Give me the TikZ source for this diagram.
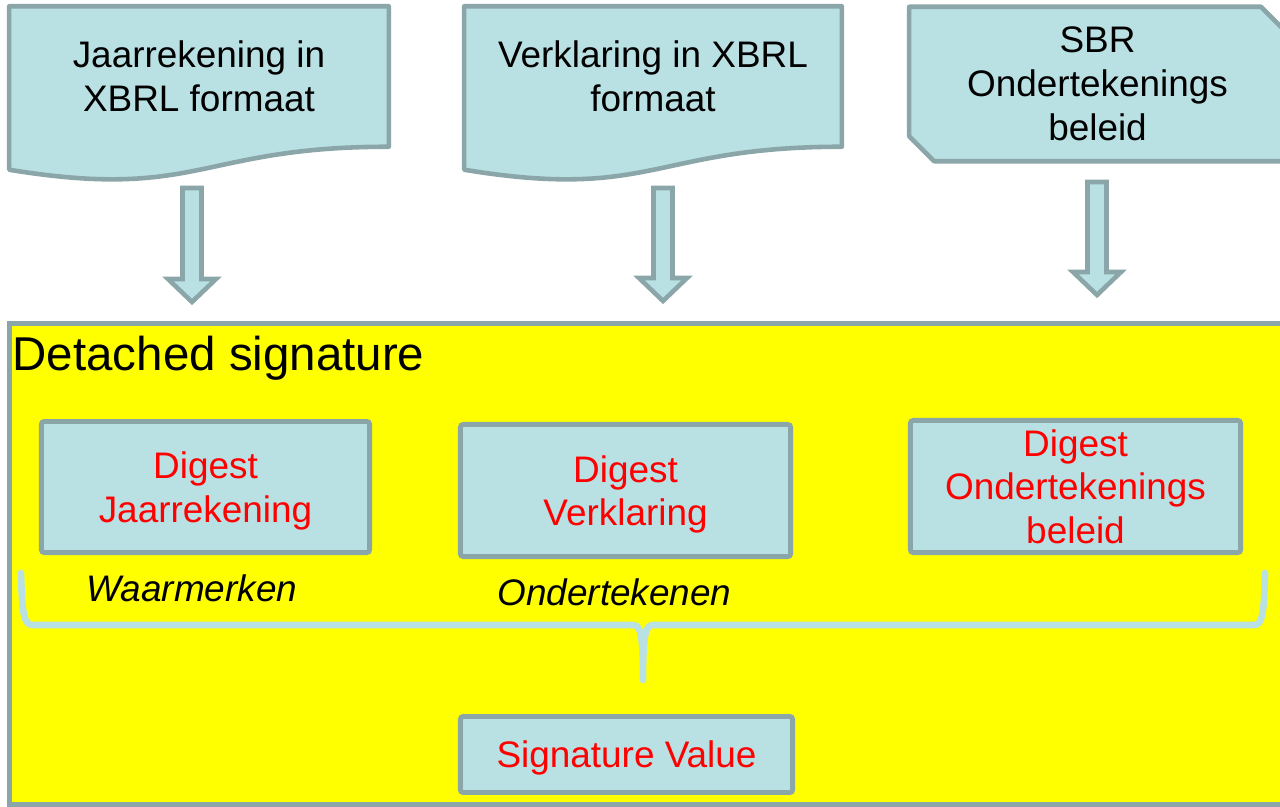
\documentclass[tikz,border=0pt]{standalone}
\usepackage{fontspec}
\setmainfont{Liberation Sans}
\usetikzlibrary{calc,backgrounds}
\definecolor{docfill}{RGB}{185,224,227}
\definecolor{docline}{RGB}{139,166,169}
\definecolor{sigyellow}{RGB}{255,255,0}
\definecolor{digred}{RGB}{255,0,0}
\tikzstyle{docnode} = [inner sep=0pt,align=center,font=\fontsize{10.5}{12.5}\selectfont]
\tikzstyle{docshape} = [draw=docline,fill=docfill,line width=1.3pt,line join=round]
\tikzstyle{blockarrow} = [draw=docline,fill=docfill,line width=1.3pt,line join=miter]
\tikzstyle{digest} = [draw=docline,fill=docfill,line width=1.4pt,rounded corners=0.8pt,text=digred,align=center,inner sep=0pt,text depth=0pt,font=\fontsize{10.5}{12.4}\selectfont]
\tikzstyle{tag} = [font=\fontsize{10.5}{12.5}\selectfont\itshape,anchor=base,inner sep=0pt]
\tikzstyle{brace} = [draw=docfill,line width=1.9pt,line cap=round,line join=round]

\begin{document}
\begin{tikzpicture}[x=0.01cm,y=-0.01cm]
        \useasboundingbox (0,0) rectangle (1280,807);
        % documents on top
        \node[docnode,minimum width=3.78cm,minimum height=1.39cm] (jaar) at (199,76.5) {Jaarrekening in\\XBRL formaat};
        \node[docnode,minimum width=3.76cm,minimum height=1.39cm] (verkl) at (653,76.5) {Verklaring in XBRL\\formaat};
        \node[docnode,minimum width=3.75cm,minimum height=1.53cm] (beleid) at (1097.5,84) {SBR\\Ondertekenings\\beleid};

        \begin{scope}[on background layer]
            \fill[white] (0,0) rectangle (1280,807);
            \draw[docshape] (jaar.north west) -- (jaar.north east) -- (jaar.south east)
                .. controls (jaar.south) and ($(jaar.south)+(0,54)$) .. ($(jaar.south west)+(0,23)$) -- cycle;
            \draw[docshape] (verkl.north west) -- (verkl.north east) -- (verkl.south east)
                .. controls (verkl.south) and ($(verkl.south)+(0,54)$) .. ($(verkl.south west)+(0,23)$) -- cycle;
            \draw[docshape] (beleid.north west) -- ($(beleid.north east)+(-25,0)$) -- ($(beleid.north east)+(0,25)$)
                -- (beleid.south east) -- ($(beleid.south west)+(25,0)$) -- ($(beleid.south west)+(0,-25)$) -- cycle;
        \end{scope}

        % block arrows
        \foreach \x/\t/\b in {192/188/302, 663/188/301, 1097/182/295}
            \draw[blockarrow] (\x-9.5,\t) -- (\x+9.5,\t) -- (\x+9.5,\b-23) -- (\x+24,\b-23)
                -- (\x,\b) -- (\x-24,\b-23) -- (\x-9.5,\b-23) -- cycle;

        % detached signature area
        \node[draw=docline,fill=sigyellow,line width=1.4pt,inner sep=0pt,minimum width=12.94cm,minimum height=4.80cm] (detached) at (657,564) {};
        \node[font=\fontsize{13.5}{16}\selectfont,anchor=base west,inner sep=0pt] (title) at (12,371) {Detached signature};

        \node[digest,minimum width=3.28cm,minimum height=1.31cm] (djaar) at (205.5,487) {Digest\\Jaarrekening};
        \node[digest,minimum width=3.30cm,minimum height=1.32cm] (dverkl) at (625.5,490.5) {Digest\\Verklaring};
        \node[digest,minimum width=3.30cm,minimum height=1.32cm] (dbeleid) at (1075.5,486.5) {Digest\\Ondertekenings\\beleid};
        \node[digest,minimum width=3.32cm,minimum height=0.76cm] (sigval) at (626.5,754.5) {Signature Value};

        \node[tag] (waar) at (192,601) {Waarmerken};
        \node[tag] (onder) at (614.5,605) {Ondertekenen};

        % brace
        \coordinate (tip) at (643,680);
        \draw[brace] (21,573) .. controls (22,615) and (24,625) .. (33,625) -- (633,625)
            .. controls (641,625) and (643,636) .. (tip)
            .. controls (643,636) and (645,625) .. (653,625) -- (1254,625)
            .. controls (1262,625) and (1264,615) .. (1265,573);
    \end{tikzpicture}
\end{document}
